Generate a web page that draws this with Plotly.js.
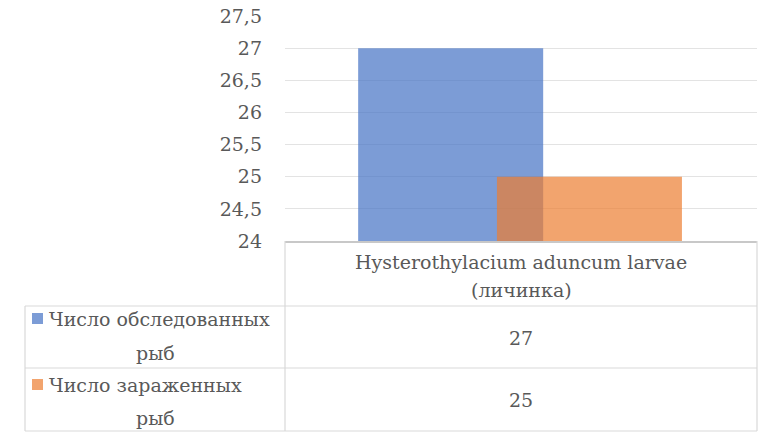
<!DOCTYPE html>
<html>
<head>
<meta charset="utf-8">
<script src="https://cdn.plot.ly/plotly-3.0.1.min.js"></script>
<style>html,body{margin:0;padding:0;background:#fff;}#chart{width:768px;height:439px;}</style>
</head>
<body>
<div id="chart"></div>
<script>
// ---- data ----
const categories = ["Hysterothylacium aduncum larvae<br>(личинка)"];
const seriesNames = ["Число обследованных<br>рыб", "Число зараженных<br>рыб"];
const seriesNameLine1 = ["Число обследованных", "Число зараженных"];
const seriesNameLine2 = ["рыб", "рыб"];
const examined = [27];
const infected = [25];
const yTicks = [24, 24.5, 25, 25.5, 26, 26.5, 27, 27.5];

// ---- layout helpers (pixel -> paper) ----
const W = 768, H = 439;
const L = 285, R = 757, T = 16, B = 241;
const px = x => (x - L) / (R - L);
const py = y => (B - y) / (B - T);
const FONT = "DejaVu Serif";
const FS = 19;
const TXT = "#595959";
const GRID = "#e3e3e3";
const LINE = "#d9d9d9";
const colors = ["#4472C4", "#ED7D31"];

const traces = [
  {type: "bar", x: [0], y: examined, name: seriesNames[0], width: [0.392], offset: [-0.345],
   marker: {color: colors[0], opacity: 0.7}, hoverinfo: "y"},
  {type: "bar", x: [0], y: infected, name: seriesNames[1], width: [0.392], offset: [-0.051],
   marker: {color: colors[1], opacity: 0.7}, hoverinfo: "y"}
];

const hl = (y, x0, x1, c) => ({type: "line", xref: "paper", yref: "paper", x0: px(x0), x1: px(x1), y0: py(y), y1: py(y), line: {color: c || LINE, width: 1.2}});
const vl = (x, y0, y1, c) => ({type: "line", xref: "paper", yref: "paper", x0: px(x), x1: px(x), y0: py(y0), y1: py(y1), line: {color: c || LINE, width: 1.2}});

const shapes = [
  hl(306, 25, 757), hl(368, 25, 757), hl(431, 25, 757),
  vl(25, 306, 431), vl(285, 241, 431), vl(757, 241, 431),
  // legend keys
  {type: "rect", xref: "paper", yref: "paper", x0: px(32), x1: px(43), y0: py(313), y1: py(324), fillcolor: colors[0], opacity: 0.7, line: {width: 0}},
  {type: "rect", xref: "paper", yref: "paper", x0: px(32), x1: px(43), y0: py(379), y1: py(390), fillcolor: colors[1], opacity: 0.7, line: {width: 0}}
];

const f = {family: FONT, size: FS, color: TXT};
const ann = (x, y, text, xanchor) => ({xref: "paper", yref: "paper", x: px(x), y: py(y), text: text, showarrow: false, xanchor: xanchor || "center", yanchor: "middle", font: f});

const catLines = categories[0].split("<br>");
const annotations = [
  ann(521, 262, catLines[0]),
  ann(521, 290, catLines[1]),
  ann(521, 338, String(examined[0])),
  ann(521, 400, String(infected[0])),
  ann(47, 319, seriesNameLine1[0], "left"),
  ann(155, 353, seriesNameLine2[0]),
  ann(47, 385, seriesNameLine1[1], "left"),
  ann(155, 418, seriesNameLine2[1])
];

const layout = {
  width: W, height: H,
  margin: {l: L, r: W - R, t: T, b: H - B, pad: 0},
  paper_bgcolor: "#fff", plot_bgcolor: "#fff",
  separators: ", ",
  barmode: "overlay",
  showlegend: false,
  font: {family: FONT, size: FS, color: TXT},
  xaxis: {range: [-0.5, 0.5], showticklabels: false, showgrid: false, zeroline: false,
          showline: true, linecolor: "#c8c8c8", linewidth: 1.5, fixedrange: true},
  yaxis: {range: [24, 27.5], tickvals: yTicks, showgrid: true, gridcolor: GRID, gridwidth: 1,
          zeroline: false, showline: false, ticks: "", ticklabelstandoff: 22,
          tickfont: {family: FONT, size: FS, color: TXT}, fixedrange: true},
  shapes: shapes,
  annotations: annotations
};

Plotly.newPlot("chart", traces, layout, {displayModeBar: false, staticPlot: true});
</script>
</body>
</html>
